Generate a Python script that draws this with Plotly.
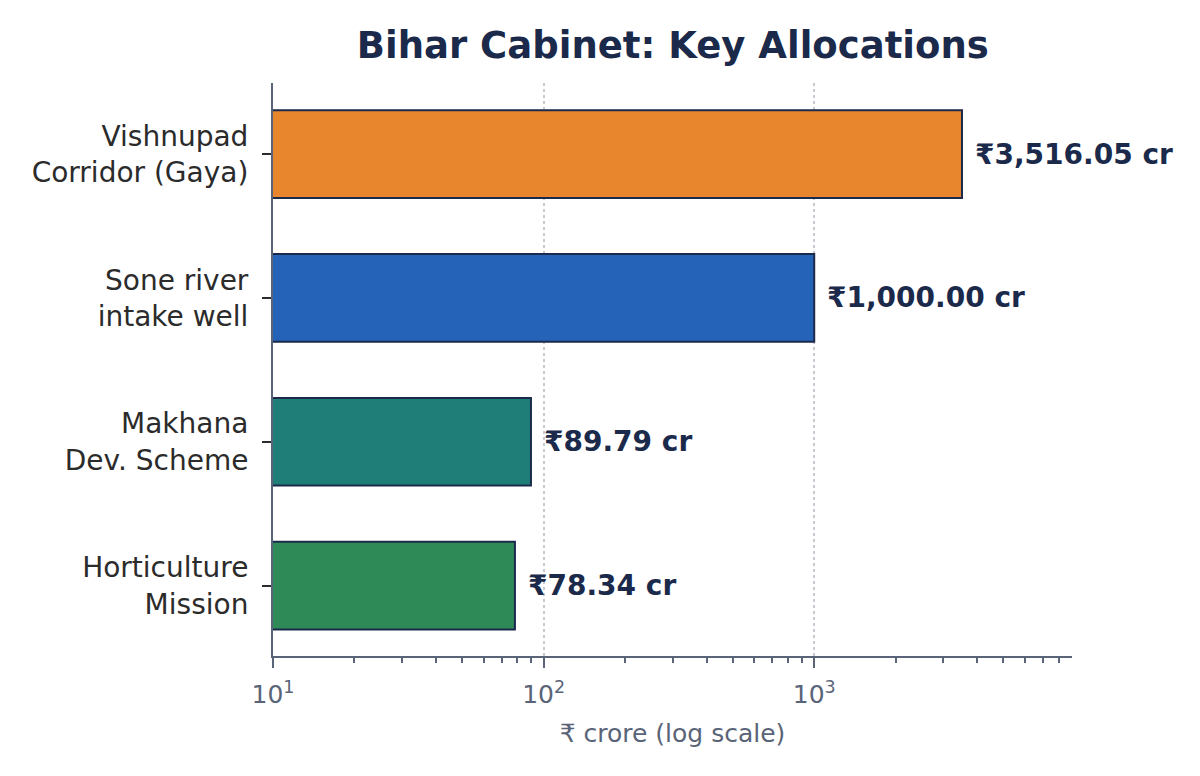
import numpy as np
import plotly.graph_objects as go

# data (bottom to top)
projects = ["Horticulture<br>Mission", "Makhana<br>Dev. Scheme",
            "Sone river<br>intake well", "Vishnupad<br>Corridor (Gaya)"]
amounts = [78.34, 89.79, 1000.00, 3516.05]
bar_colors = ["#2E8B57", "#1F7F78", "#2563B8", "#E8862E"]
major_ticks = [10, 100, 1000]
major_text = ["10<sup>1</sup>", "10<sup>2</sup>", "10<sup>3</sup>"]

navy = "#1B2A4A"
axis_grey = "#5A6478"
font_name = "DejaVu Sans"

labels = ["₹{:,.2f} cr".format(v) for v in amounts]

fig = go.Figure()
fig.add_trace(go.Bar(
    x=amounts, y=projects, orientation="h", width=0.61,
    marker=dict(color=bar_colors, line=dict(color=navy, width=2)),
    hoverinfo="skip", showlegend=False,
))

for p, v, t in zip(projects, amounts, labels):
    fig.add_annotation(
        x=np.log10(v), y=p, text="<b>" + t + "</b>", showarrow=False,
        xanchor="left", yanchor="middle", xshift=11,
        font=dict(family=font_name, size=28, color=navy),
    )

# minor ticks between decades
minor_vals = [m * 10 ** e for e in (1, 2, 3) for m in range(2, 10)]

# page has an 8px body margin, so margins are shifted by it
fig.update_layout(
    width=1200, height=776,
    paper_bgcolor="white", plot_bgcolor="white",
    margin=dict(l=265, r=136, t=75, b=128),
    title=dict(text="<b>Bihar Cabinet: Key Allocations</b>", x=0.554, xanchor="center",
               y=0.952, yanchor="middle",
               font=dict(family=font_name, size=37, color=navy)),
    font=dict(family=font_name),
)

fig.update_xaxes(
    type="log", range=[1, np.log10(3516.05 * 2.55)],
    tickvals=major_ticks, ticktext=major_text,
    showline=True, linecolor=axis_grey, linewidth=2,
    ticks="outside", ticklen=10, tickwidth=2, tickcolor=axis_grey,
    ticklabelstandoff=5,
    tickfont=dict(family=font_name, size=25, color=axis_grey),
    showgrid=True, gridcolor="#C8CAD2", griddash="dot", gridwidth=1.5,
    minor=dict(tickvals=minor_vals, ticks="outside", ticklen=5, tickwidth=1.5,
               tickcolor=axis_grey, showgrid=False),
    title=dict(text="₹ crore (log scale)", standoff=16,
               font=dict(family=font_name, size=25, color=axis_grey)),
    zeroline=False,
)

fig.update_yaxes(
    range=[-0.49, 3.495],
    showline=True, linecolor=axis_grey, linewidth=2,
    ticks="outside", ticklen=9, tickwidth=2, tickcolor="#2B2B2B",
    ticklabelstandoff=8,
    tickfont=dict(family=font_name, size=28, color="#2B2B2B"),
    showgrid=False, zeroline=False,
)

fig.write_html("out.html")
